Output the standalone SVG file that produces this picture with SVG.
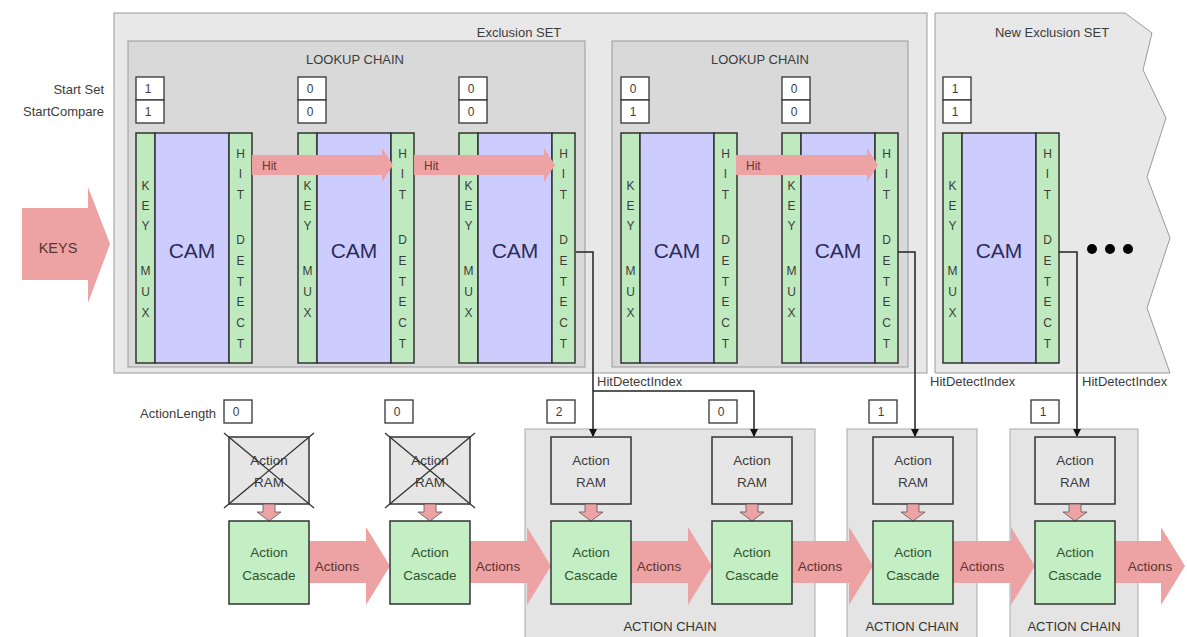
<svg xmlns="http://www.w3.org/2000/svg" width="1187" height="637" viewBox="0 0 1187 637">
<defs>
<style>
text{font-family:"Liberation Sans",Arial,sans-serif;fill:#3c3c3c}
.set{fill:#e8e8e8;stroke:#9a9a9a;stroke-width:1}
.chain{fill:#d9d9d9;stroke:#9a9a9a;stroke-width:1}
.achain{fill:#e4e4e4;stroke:#aaa;stroke-width:1}
.lbl{font-size:13px}
.mid{text-anchor:middle}
.end{text-anchor:end}
.val{fill:#fff;stroke:#333;stroke-width:1.3}
.vt{font-size:12px;text-anchor:middle;fill:#3c3c3c}
.strip{fill:#bfeabf;stroke:#333;stroke-width:1.5}
.cam{fill:#ccccff;stroke:#333;stroke-width:1.5}
.camt{font-size:21px;text-anchor:middle;fill:#2c2c58}
.let{font-size:12px;text-anchor:middle;fill:#2e2e2e}
.pink{fill:#eda3a3;stroke:none}
.pinks{fill:#eda3a3;stroke:#555;stroke-width:0.8}
.ram{fill:#e6e6e6;stroke:#333;stroke-width:1.5}
.casc{fill:#c4eec4;stroke:#333;stroke-width:1.5}
.ct{font-size:13.5px;text-anchor:middle;fill:#2f552f}
.rt{font-size:13.5px;text-anchor:middle;fill:#3c3c3c}
.arrt{font-size:13.5px;text-anchor:middle;fill:#5e3333}
.conn{fill:none;stroke:#222;stroke-width:1.5}
.cross{stroke:#333;stroke-width:1.3}
</style>
<marker id="ah" markerWidth="8" markerHeight="8" refX="7" refY="4" orient="auto" markerUnits="userSpaceOnUse">
<path d="M0,0 L8,4 L0,8 Z" fill="#111"/>
</marker>
</defs>
<rect width="1187" height="637" fill="#fff"/>

<g id="exclusion-set">
<rect class="set" x="114" y="13" width="813" height="360"/>
<text class="lbl mid" x="519" y="37">Exclusion SET</text>
</g>
<g id="new-exclusion-set">
<polygon class="set" points="935,13 1125,13 1152,33 1143,70 1166,118 1147,177 1170,238 1147,308 1170,373 935,373"/>
<text class="lbl mid" x="1052" y="37">New Exclusion SET</text>
</g>
<g id="lookup-chain-1">
<rect class="chain" x="128" y="41" width="457" height="326"/>
<text class="lbl mid" x="355" y="64">LOOKUP CHAIN</text>
</g>
<g id="lookup-chain-2">
<rect class="chain" x="612" y="41" width="296" height="326"/>
<text class="lbl mid" x="760" y="64">LOOKUP CHAIN</text>
</g>

<g id="side-labels">
<text class="lbl end" x="104" y="94">Start Set</text>
<text class="lbl end" x="104" y="116">StartCompare</text>
<text class="lbl end" x="216" y="418">ActionLength</text>
</g>

<g id="keys">
<polygon class="pink" points="22,208 88,208 88,187 110,244 88,303 88,280 22,280"/>
<text class="mid" x="58" y="253" font-size="14.5" style="fill:#5a3333">KEYS</text>
</g>

<g id="cam1" transform="translate(136,0)">
<rect class="val" x="0" y="77" width="28" height="23"/><rect class="val" x="0" y="100" width="28" height="23"/>
<text class="vt" x="12" y="93">1</text><text class="vt" x="12" y="116">1</text>
<rect class="strip" x="0" y="133" width="19" height="230"/>
<rect class="cam" x="19" y="133" width="74" height="230"/>
<rect class="strip" x="93" y="133" width="23" height="230"/>
<text class="camt" x="56" y="258">CAM</text>
<g class="let"><text x="9.5" y="190">K</text><text x="9.5" y="210">E</text><text x="9.5" y="230">Y</text><text x="9.5" y="275">M</text><text x="9.5" y="296">U</text><text x="9.5" y="317">X</text></g>
<g class="let"><text x="104.5" y="158">H</text><text x="104.5" y="178">I</text><text x="104.5" y="199">T</text><text x="104.5" y="244">D</text><text x="104.5" y="265">E</text><text x="104.5" y="286">T</text><text x="104.5" y="306">E</text><text x="104.5" y="327">C</text><text x="104.5" y="348">T</text></g>
</g>
<g id="cam2" transform="translate(298,0)">
<rect class="val" x="0" y="77" width="28" height="23"/><rect class="val" x="0" y="100" width="28" height="23"/>
<text class="vt" x="12" y="93">0</text><text class="vt" x="12" y="116">0</text>
<rect class="strip" x="0" y="133" width="19" height="230"/>
<rect class="cam" x="19" y="133" width="74" height="230"/>
<rect class="strip" x="93" y="133" width="23" height="230"/>
<text class="camt" x="56" y="258">CAM</text>
<g class="let"><text x="9.5" y="190">K</text><text x="9.5" y="210">E</text><text x="9.5" y="230">Y</text><text x="9.5" y="275">M</text><text x="9.5" y="296">U</text><text x="9.5" y="317">X</text></g>
<g class="let"><text x="104.5" y="158">H</text><text x="104.5" y="178">I</text><text x="104.5" y="199">T</text><text x="104.5" y="244">D</text><text x="104.5" y="265">E</text><text x="104.5" y="286">T</text><text x="104.5" y="306">E</text><text x="104.5" y="327">C</text><text x="104.5" y="348">T</text></g>
</g>
<g id="cam3" transform="translate(459,0)">
<rect class="val" x="0" y="77" width="28" height="23"/><rect class="val" x="0" y="100" width="28" height="23"/>
<text class="vt" x="12" y="93">0</text><text class="vt" x="12" y="116">0</text>
<rect class="strip" x="0" y="133" width="19" height="230"/>
<rect class="cam" x="19" y="133" width="74" height="230"/>
<rect class="strip" x="93" y="133" width="23" height="230"/>
<text class="camt" x="56" y="258">CAM</text>
<g class="let"><text x="9.5" y="190">K</text><text x="9.5" y="210">E</text><text x="9.5" y="230">Y</text><text x="9.5" y="275">M</text><text x="9.5" y="296">U</text><text x="9.5" y="317">X</text></g>
<g class="let"><text x="104.5" y="158">H</text><text x="104.5" y="178">I</text><text x="104.5" y="199">T</text><text x="104.5" y="244">D</text><text x="104.5" y="265">E</text><text x="104.5" y="286">T</text><text x="104.5" y="306">E</text><text x="104.5" y="327">C</text><text x="104.5" y="348">T</text></g>
</g>
<g id="cam4" transform="translate(621,0)">
<rect class="val" x="0" y="77" width="28" height="23"/><rect class="val" x="0" y="100" width="28" height="23"/>
<text class="vt" x="12" y="93">0</text><text class="vt" x="12" y="116">1</text>
<rect class="strip" x="0" y="133" width="19" height="230"/>
<rect class="cam" x="19" y="133" width="74" height="230"/>
<rect class="strip" x="93" y="133" width="23" height="230"/>
<text class="camt" x="56" y="258">CAM</text>
<g class="let"><text x="9.5" y="190">K</text><text x="9.5" y="210">E</text><text x="9.5" y="230">Y</text><text x="9.5" y="275">M</text><text x="9.5" y="296">U</text><text x="9.5" y="317">X</text></g>
<g class="let"><text x="104.5" y="158">H</text><text x="104.5" y="178">I</text><text x="104.5" y="199">T</text><text x="104.5" y="244">D</text><text x="104.5" y="265">E</text><text x="104.5" y="286">T</text><text x="104.5" y="306">E</text><text x="104.5" y="327">C</text><text x="104.5" y="348">T</text></g>
</g>
<g id="cam5" transform="translate(782,0)">
<rect class="val" x="0" y="77" width="28" height="23"/><rect class="val" x="0" y="100" width="28" height="23"/>
<text class="vt" x="12" y="93">0</text><text class="vt" x="12" y="116">0</text>
<rect class="strip" x="0" y="133" width="19" height="230"/>
<rect class="cam" x="19" y="133" width="74" height="230"/>
<rect class="strip" x="93" y="133" width="23" height="230"/>
<text class="camt" x="56" y="258">CAM</text>
<g class="let"><text x="9.5" y="190">K</text><text x="9.5" y="210">E</text><text x="9.5" y="230">Y</text><text x="9.5" y="275">M</text><text x="9.5" y="296">U</text><text x="9.5" y="317">X</text></g>
<g class="let"><text x="104.5" y="158">H</text><text x="104.5" y="178">I</text><text x="104.5" y="199">T</text><text x="104.5" y="244">D</text><text x="104.5" y="265">E</text><text x="104.5" y="286">T</text><text x="104.5" y="306">E</text><text x="104.5" y="327">C</text><text x="104.5" y="348">T</text></g>
</g>
<g id="cam6" transform="translate(943,0)">
<rect class="val" x="0" y="77" width="28" height="23"/><rect class="val" x="0" y="100" width="28" height="23"/>
<text class="vt" x="12" y="93">1</text><text class="vt" x="12" y="116">1</text>
<rect class="strip" x="0" y="133" width="19" height="230"/>
<rect class="cam" x="19" y="133" width="74" height="230"/>
<rect class="strip" x="93" y="133" width="23" height="230"/>
<text class="camt" x="56" y="258">CAM</text>
<g class="let"><text x="9.5" y="190">K</text><text x="9.5" y="210">E</text><text x="9.5" y="230">Y</text><text x="9.5" y="275">M</text><text x="9.5" y="296">U</text><text x="9.5" y="317">X</text></g>
<g class="let"><text x="104.5" y="158">H</text><text x="104.5" y="178">I</text><text x="104.5" y="199">T</text><text x="104.5" y="244">D</text><text x="104.5" y="265">E</text><text x="104.5" y="286">T</text><text x="104.5" y="306">E</text><text x="104.5" y="327">C</text><text x="104.5" y="348">T</text></g>
</g>

<g id="more">
<circle cx="1092" cy="249" r="5" fill="#000"/><circle cx="1110" cy="249" r="5" fill="#000"/><circle cx="1128" cy="249" r="5" fill="#000"/>
</g>

<g id="action-chain-1">
<rect class="achain" x="525" y="429" width="290" height="215"/>
<text class="lbl mid" x="670" y="631" style="fill:#333">ACTION CHAIN</text>
</g>
<g id="action-chain-2">
<rect class="achain" x="847" y="429" width="130" height="215"/>
<text class="lbl mid" x="912" y="631" style="fill:#333">ACTION CHAIN</text>
</g>
<g id="action-chain-3">
<rect class="achain" x="1010" y="429" width="128" height="215"/>
<text class="lbl mid" x="1074" y="631" style="fill:#333">ACTION CHAIN</text>
</g>

<g id="connectors">
<g id="hit-arrows">
<polygon class="pink" points="252,155 382,155 382,148 393,165 382,182 382,175 252,175"/>
<text x="262" y="170" font-size="12" style="fill:#6a3333">Hit</text>
<polygon class="pink" points="414,155 544,155 544,148 555,165 544,182 544,175 414,175"/>
<text x="424" y="170" font-size="12" style="fill:#6a3333">Hit</text>
<polygon class="pink" points="736,155 867,155 867,148 878,165 867,182 867,175 736,175"/>
<text x="746" y="170" font-size="12" style="fill:#6a3333">Hit</text>
</g>
<g id="hit-detect-index">
<polyline class="conn" points="576,252 593,252 593,436" marker-end="url(#ah)"/>
<polyline class="conn" points="593,391 754,391 754,436" marker-end="url(#ah)"/>
<polyline class="conn" points="898,252 915,252 915,436" marker-end="url(#ah)"/>
<polyline class="conn" points="1059,252 1077,252 1077,436" marker-end="url(#ah)"/>
<text class="lbl" x="597" y="386">HitDetectIndex</text>
<text class="lbl" x="930" y="386">HitDetectIndex</text>
<text class="lbl" x="1082" y="386">HitDetectIndex</text>
</g>
<g id="action-arrows">
<polygon class="pink" points="309,541 366,541 366,527 390,566 366,605 366,583 309,583"/>
<text class="arrt" x="337" y="571">Actions</text>
<polygon class="pink" points="470,541 527,541 527,527 551,566 527,605 527,583 470,583"/>
<text class="arrt" x="498" y="571">Actions</text>
<polygon class="pink" points="631,541 688,541 688,527 712,566 688,605 688,583 631,583"/>
<text class="arrt" x="659" y="571">Actions</text>
<polygon class="pink" points="792,541 849,541 849,527 873,566 849,605 849,583 792,583"/>
<text class="arrt" x="820" y="571">Actions</text>
<polygon class="pink" points="953,541 1011,541 1011,527 1035,566 1011,605 1011,583 953,583"/>
<text class="arrt" x="982" y="571">Actions</text>
<polygon class="pink" points="1115,541 1161,541 1161,527 1185,566 1161,605 1161,583 1115,583"/>
<text class="arrt" x="1150" y="571">Actions</text>
</g>
</g>

<g id="stage1" transform="translate(229,0)">
<rect class="val" x="-5" y="400" width="28" height="23"/><text class="vt" x="7" y="416">0</text>
<rect class="ram" x="0" y="437" width="80" height="67"/>
<text class="rt" x="40" y="465">Action</text><text class="rt" x="40" y="487">RAM</text>
<line class="cross" x1="-5" y1="433" x2="85" y2="508"/><line class="cross" x1="85" y1="433" x2="-5" y2="508"/>
<polygon class="pinks" points="34,504 46,504 46,512 52,512 40,521 28,512 34,512"/>
<rect class="casc" x="0" y="521" width="80" height="83"/>
<text class="ct" x="40" y="557">Action</text><text class="ct" x="40" y="580">Cascade</text>
</g>
<g id="stage2" transform="translate(390,0)">
<rect class="val" x="-5" y="400" width="28" height="23"/><text class="vt" x="7" y="416">0</text>
<rect class="ram" x="0" y="437" width="80" height="67"/>
<text class="rt" x="40" y="465">Action</text><text class="rt" x="40" y="487">RAM</text>
<line class="cross" x1="-5" y1="433" x2="85" y2="508"/><line class="cross" x1="85" y1="433" x2="-5" y2="508"/>
<polygon class="pinks" points="34,504 46,504 46,512 52,512 40,521 28,512 34,512"/>
<rect class="casc" x="0" y="521" width="80" height="83"/>
<text class="ct" x="40" y="557">Action</text><text class="ct" x="40" y="580">Cascade</text>
</g>
<g id="stage3" transform="translate(551,0)">
<rect class="val" x="-4" y="400" width="28" height="23"/><text class="vt" x="8" y="416">2</text>
<rect class="ram" x="0" y="437" width="80" height="67"/>
<text class="rt" x="40" y="465">Action</text><text class="rt" x="40" y="487">RAM</text>
<polygon class="pinks" points="34,504 46,504 46,512 52,512 40,521 28,512 34,512"/>
<rect class="casc" x="0" y="521" width="80" height="83"/>
<text class="ct" x="40" y="557">Action</text><text class="ct" x="40" y="580">Cascade</text>
</g>
<g id="stage4" transform="translate(712,0)">
<rect class="val" x="-3" y="400" width="28" height="23"/><text class="vt" x="9" y="416">0</text>
<rect class="ram" x="0" y="437" width="80" height="67"/>
<text class="rt" x="40" y="465">Action</text><text class="rt" x="40" y="487">RAM</text>
<polygon class="pinks" points="34,504 46,504 46,512 52,512 40,521 28,512 34,512"/>
<rect class="casc" x="0" y="521" width="80" height="83"/>
<text class="ct" x="40" y="557">Action</text><text class="ct" x="40" y="580">Cascade</text>
</g>
<g id="stage5" transform="translate(873,0)">
<rect class="val" x="-4" y="400" width="28" height="23"/><text class="vt" x="8" y="416">1</text>
<rect class="ram" x="0" y="437" width="80" height="67"/>
<text class="rt" x="40" y="465">Action</text><text class="rt" x="40" y="487">RAM</text>
<polygon class="pinks" points="34,504 46,504 46,512 52,512 40,521 28,512 34,512"/>
<rect class="casc" x="0" y="521" width="80" height="83"/>
<text class="ct" x="40" y="557">Action</text><text class="ct" x="40" y="580">Cascade</text>
</g>
<g id="stage6" transform="translate(1035,0)">
<rect class="val" x="-4" y="400" width="28" height="23"/><text class="vt" x="8" y="416">1</text>
<rect class="ram" x="0" y="437" width="80" height="67"/>
<text class="rt" x="40" y="465">Action</text><text class="rt" x="40" y="487">RAM</text>
<polygon class="pinks" points="34,504 46,504 46,512 52,512 40,521 28,512 34,512"/>
<rect class="casc" x="0" y="521" width="80" height="83"/>
<text class="ct" x="40" y="557">Action</text><text class="ct" x="40" y="580">Cascade</text>
</g>
</svg>
